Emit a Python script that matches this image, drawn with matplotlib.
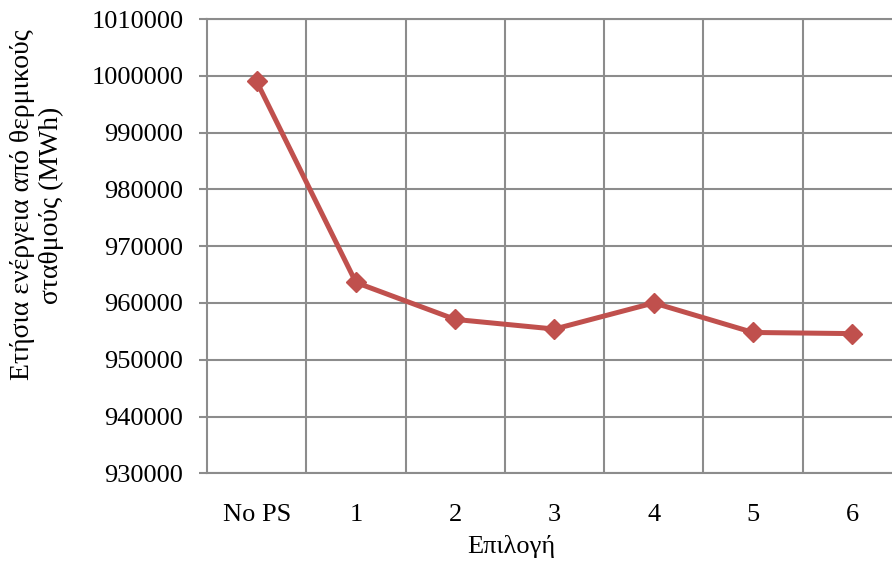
import matplotlib
matplotlib.use("Agg")
import matplotlib.pyplot as plt

# data
options = ["No PS", "1", "2", "3", "4", "5", "6"]
energy_mwh = [999000, 963600, 957100, 955400, 960000, 954800, 954600]
y_ticks = list(range(930000, 1010001, 10000))

plt.rcParams["font.family"] = ["Liberation Serif", "DejaVu Serif"]
grid_col = "#8c8c8c"
line_col = "#c0504d"

fig = plt.figure(figsize=(8.92, 5.62), dpi=100)
ax = fig.add_axes([207 / 892, 1 - 473.3 / 562, 695 / 892, (473.3 - 19) / 562])

x = range(len(options))
ax.plot(x, energy_mwh, color=line_col, lw=3.6, marker="D", ms=10.5, zorder=3)

ax.set_xlim(-0.5, len(options) - 0.5)
ax.set_ylim(930000, 1010000)
ax.set_yticks(y_ticks)
ax.set_yticklabels([str(v) for v in y_ticks])
ax.set_xticks(list(x))
ax.set_xticklabels(options)

# vertical grid lines sit between categories
ax.set_xticks([i + 0.5 for i in range(len(options))], minor=True)
ax.grid(axis="y", which="major", color=grid_col, lw=1.5)
ax.grid(axis="x", which="minor", color=grid_col, lw=1.5)
ax.set_axisbelow(True)

for s in ax.spines.values():
    s.set_color(grid_col)
    s.set_linewidth(1.5)
ax.spines["right"].set_visible(False)

ax.tick_params(axis="y", length=6, width=1.5, color=grid_col, pad=11, labelsize=19)
ax.tick_params(axis="x", which="both", length=0, pad=22, labelsize=19)

fig.text(511 / 892, 1 - 547 / 562, "Επιλογή", ha="center", va="center", fontsize=19)
fig.text(37 / 892, 1 - 205 / 562, "Ετήσια ενέργεια από θερμικούς\nσταθμούς (MWh)",
         rotation=90, ha="center", va="center", multialignment="center",
         fontsize=20, linespacing=1.15)

fig.savefig("out.png", dpi=100)
